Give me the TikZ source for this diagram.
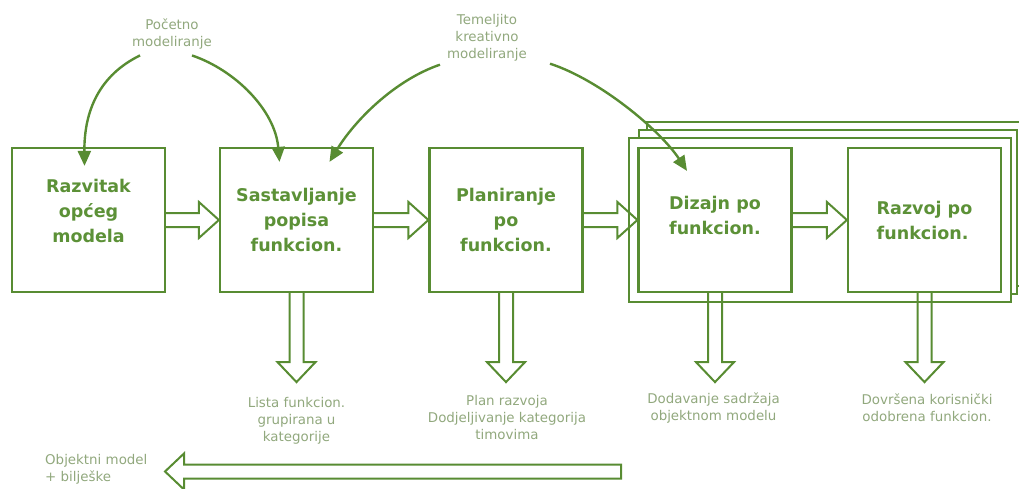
\documentclass[tikz,border=0pt]{standalone}
\usepackage{fontspec}
\setmainfont{DejaVu Sans}
\setsansfont{DejaVu Sans}
\usetikzlibrary{arrows.meta,calc}

\definecolor{fddline}{RGB}{88,140,50}
\definecolor{fddtext}{RGB}{92,145,55}
\definecolor{fddnote}{RGB}{145,168,125}

% prazne blok-strelice
\newcommand{\fatright}[2]{%
    \draw[fat] let \p1=(#1), \p2=(#2) in
        (\x1,\y1+7pt) -- (\x2-20pt,\y1+7pt) -- (\x2-20pt,\y1+18pt) -- (\x2,\y1)
        -- (\x2-20pt,\y1-18pt) -- (\x2-20pt,\y1-7pt) -- (\x1,\y1-7pt);}
\newcommand{\fatdown}[2]{%
    \draw[fat] let \p1=(#1), \p2=(#2) in
        (\x1-7pt,\y1) -- (\x1-7pt,\y2+20pt) -- (\x1-19pt,\y2+20pt) -- (\x1,\y2)
        -- (\x1+19pt,\y2+20pt) -- (\x1+7pt,\y2+20pt) -- (\x1+7pt,\y1);}
\newcommand{\fatleft}[2]{%
    \draw[fat] let \p1=(#1), \p2=(#2) in
        (\x1,\y1+7pt) -- (\x2+19pt,\y1+7pt) -- (\x2+19pt,\y1+18pt) -- (\x2,\y1)
        -- (\x2+19pt,\y1-18pt) -- (\x2+19pt,\y1-7pt) -- (\x1,\y1-7pt) -- cycle;}

\begin{document}
\begin{tikzpicture}[
    x=1pt, y=-1pt,
    phase/.style={
        rectangle,
        draw=fddline,
        fill=white,
        line width=2.2pt,
        minimum width=153pt,
        minimum height=144pt,
        align=center,
        text=fddtext,
        font=\sffamily\bfseries\fontsize{17.5}{25}\selectfont
    },
    stack/.style={
        draw=fddline,
        fill=white,
        line width=2.2pt
    },
    note/.style={
        align=center,
        inner sep=0pt,
        text=fddnote,
        font=\fontsize{13.4}{17}\selectfont
    },
    fat/.style={
        draw=fddline,
        line width=2pt,
        line join=miter
    },
    bent/.style={
        draw=fddline,
        line width=2.4pt,
        -{Triangle[length=15pt,width=13pt]}
    }
]

\useasboundingbox (0,0) rectangle (1019,489);

% Okviri iteracije
\draw[stack] (647,122) rectangle (1025,286);
\draw[stack] (639,130) rectangle (1017,294);
\draw[stack] (629,138) rectangle (1011,302);

% Faze
\node[phase, text depth=18pt] (razvitak) at (88.5,220) {Razvitak\\općeg\\modela};
\node[phase] (popis) at (296.5,220) {Sastavljanje\\popisa\\funkcion.};
\node[phase] (plan) at (506,220) {Planiranje\\po\\funkcion.};
\node[phase, align=left, text depth=10pt] (dizajn) at (715,220) {Dizajn po\\funkcion.};
\node[phase, align=left] (razvoj) at (924.5,220) {Razvoj po\\funkcion.};

% Napomene
\node[note] (pocetno) at (172,34) {Početno\\modeliranje};
\node[note] (temeljito) at (487,38) {Temeljito\\kreativno\\modeliranje};
\node[note] (lista) at (296.5,421) {Lista funkcion.\\grupirana u\\kategorije};
\node[note] (planrazvoja) at (507,418) {Plan razvoja\\Dodjeljivanje kategorija\\timovima};
\node[note] (dodavanje) at (713.5,408) {Dodavanje sadržaja\\objektnom modelu};
\node[note] (dovrsena) at (927,408) {Dovršena korisnički\\odobrena funkcion.};
\node[note, align=left, anchor=west] (objektni) at (45,469) {Objektni model\\+ bilješke};

% Prijelazi
\fatright{razvitak.east}{popis.west}
\fatright{popis.east}{plan.west}
\fatright{plan.east}{dizajn.west}
\fatright{dizajn.east}{razvoj.west}

% Rezultati
\path (popis.south) ++(0,89) coordinate (lista tip);
\path (plan.south) ++(0,89) coordinate (plan tip);
\path (dizajn.south) ++(0,89) coordinate (dizajn tip);
\path (razvoj.south) ++(0,89) coordinate (razvoj tip);
\fatdown{popis.south}{lista tip}
\fatdown{plan.south}{plan tip}
\fatdown{dizajn.south}{dizajn tip}
\fatdown{razvoj.south}{razvoj tip}

% Povrat objektnog modela
\coordinate (povrat) at (621,471.5);
\coordinate (povrat tip) at (165,471.5);
\fatleft{povrat}{povrat tip}

% Modeliranje
\draw[bent] ($(pocetno.south west)+(8,6)$) .. controls (100,75) and (84,110) .. ($(razvitak.north)+(-4,19)$);
\draw[bent] ($(pocetno.south east)+(-20,6)$) .. controls (235,70) and (275,110) .. ($(popis.north)+(-17,15)$);
\draw[bent] ($(temeljito.south west)+(-7,3)$) .. controls (395,80) and (355,120) .. ($(popis.north)+(33,15)$);
\draw[bent] ($(temeljito.south east)+(23,2)$) .. controls (600,80) and (660,130) .. ($(dizajn.north)+(-28,24)$);

\end{tikzpicture}
\end{document}
